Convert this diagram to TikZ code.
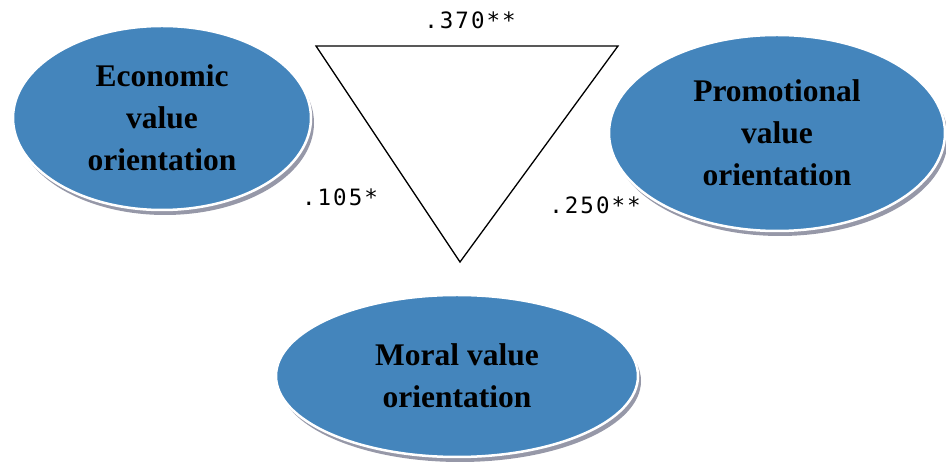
\documentclass[tikz,border=0pt]{standalone}
\usepackage{fontspec}
\setmainfont{Liberation Serif}
\newfontfamily\coeffont[LetterSpace=9]{DejaVu Sans Mono}
\usetikzlibrary{shapes.geometric,shadows}
\definecolor{orientblue}{RGB}{68,133,188}
\definecolor{shadowgrey}{RGB}{150,152,168}
\tikzstyle{orient}=[ellipse, fill=orientblue, draw=white, line width=2.5pt, align=center, inner sep=0pt, font=\fontsize{31.5}{42}\selectfont\bfseries, drop shadow={shadow xshift=3pt, shadow yshift=-5pt, fill=shadowgrey, opacity=1}]
\tikzstyle{coef}=[font=\coeffont\fontsize{22.5}{24}\selectfont]

\begin{document}
\begin{tikzpicture}[x=1pt, y=1pt]
                \useasboundingbox (0,0) rectangle (946,473);
                \node[orient, minimum width=298, minimum height=184] (eco) at (162,355) {Economic\\value\\orientation};
                \node[orient, minimum width=336, minimum height=196] (promo) at (777,340) {Promotional\\value\\orientation};
                \node[orient, minimum width=362, minimum height=162] (moral) at (457,97) {Moral value\\orientation};
                \coordinate (tl) at (316,427);
                \coordinate (tr) at (618,427);
                \coordinate (tb) at (460,211);
                \draw[line width=1.3pt, line join=miter] (tl)--(tr)--(tb)--cycle;
                \node[coef] (r1) at (470,453) {.370**};
                \node[coef] (r2) at (340,276) {.105*};
                \node[coef] (r3) at (595,268) {.250**};
            \end{tikzpicture}
\end{document}
